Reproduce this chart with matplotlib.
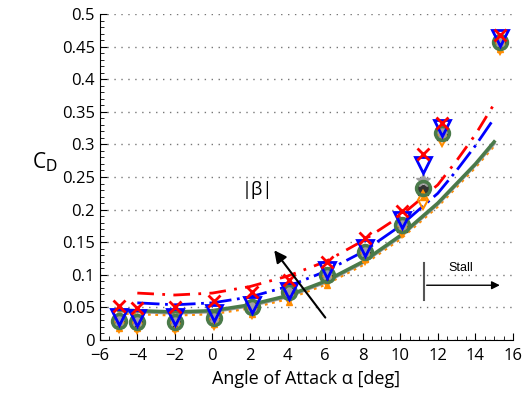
import matplotlib.pyplot as plt
from matplotlib.ticker import MultipleLocator

# measured points (angle of attack, drag coefficient) for each sideslip case
alpha = [-5, -4, -2, 0.1, 2.1, 4.1, 6.1, 8.1, 10.1, 11.2, 12.2, 15.3]
cd_red = [0.052, 0.049, 0.051, 0.060, 0.074, 0.092, 0.120, 0.156, 0.198, 0.285, 0.333, 0.468]
cd_blue = [0.035, 0.034, 0.035, 0.041, 0.054, 0.075, 0.107, 0.141, 0.184, 0.268, 0.325, 0.463]
cd_green = [0.029, 0.028, 0.028, 0.034, 0.051, 0.074, 0.100, 0.135, 0.176, 0.233, 0.317, 0.457]
cd_star = [0.031, 0.030, 0.030, 0.036, 0.052, 0.075, 0.101, 0.136, 0.177, 0.245, 0.318, 0.458]
cd_black = [0.027, 0.026, 0.027, 0.033, 0.049, 0.072, 0.098, 0.133, 0.174, 0.230, 0.314, 0.455]
cd_diam = [0.026, 0.025, 0.025, 0.031, 0.047, 0.069, 0.095, 0.130, 0.172, 0.215, 0.312, 0.452]
cd_orng = [0.018, 0.018, 0.018, 0.025, 0.040, 0.058, 0.084, 0.124, 0.168, 0.220, 0.310, 0.446]

# fitted curves
fit_x = [-4, -2, 0, 2, 4, 6, 8, 10, 12, 13, 14, 15]
fit_red = [0.072, 0.069, 0.072, 0.082, 0.098, 0.120, 0.152, 0.190, 0.238, 0.275, 0.315, 0.362]
fit_blue = [0.057, 0.054, 0.057, 0.066, 0.082, 0.105, 0.135, 0.175, 0.225, 0.260, 0.298, 0.340]
fit_x2 = [-5, -4, -2, 0, 2, 4, 6, 8, 10, 12, 13, 14, 15]
fit_green = [0.046, 0.045, 0.043, 0.045, 0.054, 0.068, 0.090, 0.120, 0.160, 0.210, 0.240, 0.270, 0.304]
fit_gray = [0.044, 0.043, 0.041, 0.043, 0.052, 0.066, 0.088, 0.118, 0.158, 0.208, 0.238, 0.268, 0.301]
fit_orng = [0.041, 0.040, 0.038, 0.040, 0.049, 0.063, 0.085, 0.115, 0.155, 0.205, 0.235, 0.265, 0.298]

plt.rcParams['font.family'] = ['Open Sans', 'DejaVu Sans']

fig = plt.figure(figsize=(5.25, 3.96), dpi=100)
ax = fig.add_axes([0.19, 0.1414, 0.787, 0.8232])

# lines first
ax.plot(fit_x2, fit_orng, color='#ff8c00', linestyle=':', linewidth=2)
ax.plot(fit_x2, fit_gray, color='#999999', linestyle='-', linewidth=2)
ax.plot(fit_x2, fit_green, color='#4a7a4a', linestyle='-', linewidth=2.5)
ax.plot(fit_x, fit_blue, color='#0000ff', linestyle=(0, (8, 2, 1, 2)), linewidth=2)
ax.plot(fit_x, fit_red, color='#ff0000', linestyle=(0, (6, 3, 1, 3)), linewidth=2)

# markers
ax.plot(alpha, cd_black, 's', color='#333333', markersize=7, linestyle='none')
ax.plot(alpha, cd_orng, '^', color='#ff8c00', markersize=5, linestyle='none')
ax.plot(alpha, cd_diam, 'd', markerfacecolor='none', markeredgecolor='#ff8c00',
        markeredgewidth=1.5, markersize=9, linestyle='none')
ax.plot(alpha, cd_star, '*', color='#a0a0a0', markersize=10, linestyle='none')
ax.plot(alpha, cd_green, 'o', markerfacecolor='none', markeredgecolor='#4a7a4a',
        markeredgewidth=2.5, markersize=10, linestyle='none')
ax.plot(alpha, cd_blue, 'v', markerfacecolor='none', markeredgecolor='#0000ff',
        markeredgewidth=2, markersize=12, linestyle='none')
ax.plot(alpha, cd_red, 'x', color='#ff0000', markeredgewidth=2, markersize=9,
        linestyle='none')

# |beta| arrow
ax.annotate('', xy=(3.2, 0.141), xytext=(6.1, 0.031),
            arrowprops=dict(arrowstyle='-|>', color='black', lw=1.5,
                            mutation_scale=18))
ax.text(2.4, 0.23, '|β|', ha='center', va='center', fontsize=13)

# stall marker
ax.plot([11.26, 11.26], [0.061, 0.118], color='#555555', linewidth=1.5)
ax.annotate('', xy=(15.45, 0.084), xytext=(11.26, 0.084),
            arrowprops=dict(arrowstyle='-|>', color='black', lw=1,
                            mutation_scale=12))
ax.text(13.2, 0.11, 'Stall', ha='center', va='center', fontsize=9,
        family=['Liberation Sans', 'DejaVu Sans'])

ax.set_xlim(-6, 16)
ax.set_ylim(0, 0.5)
ax.set_xticks(range(-6, 17, 2))
ax.set_xticklabels([str(v).replace('-', '\u2212') for v in range(-6, 17, 2)])
ax.set_yticks([i * 0.05 for i in range(11)])
ax.set_yticklabels(['0', '0.05', '0.1', '0.15', '0.2', '0.25', '0.3', '0.35',
                    '0.4', '0.45', '0.5'])
ax.xaxis.set_minor_locator(MultipleLocator(0.5))
ax.yaxis.set_minor_locator(MultipleLocator(0.01))
ax.tick_params(which='both', direction='in', labelsize=12)
ax.tick_params(axis='x', which='major', pad=6)
ax.tick_params(which='major', length=5)
ax.tick_params(which='minor', length=3)
ax.spines['top'].set_visible(False)
ax.spines['right'].set_visible(False)
ax.yaxis.grid(True, linestyle=(0, (1, 4)), color='#777777', linewidth=1)
ax.set_axisbelow(True)

ax.set_xlabel('Angle of Attack α [deg]', fontsize=13, labelpad=4)
ax.set_ylabel(r'C$_\mathrm{D}$', fontsize=15, rotation=0)
ax.yaxis.set_label_coords(-0.133, 0.51)

fig.savefig('out.png', dpi=100)
